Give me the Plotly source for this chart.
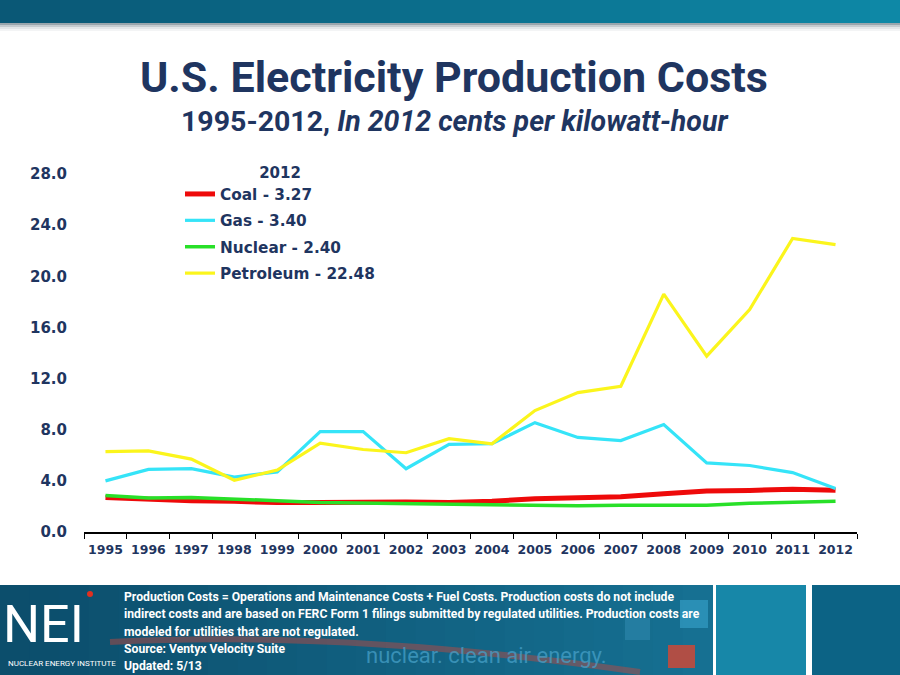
import plotly.graph_objects as go

years = [str(y) for y in range(1995, 2013)]
coal = [2.70, 2.55, 2.45, 2.40, 2.30, 2.30, 2.35, 2.35, 2.30, 2.40, 2.60, 2.70, 2.75, 3.00, 3.20, 3.25, 3.35, 3.27]
gas = [4.00, 4.90, 4.95, 4.30, 4.70, 7.85, 7.85, 4.95, 6.85, 6.90, 8.55, 7.40, 7.15, 8.40, 5.40, 5.20, 4.65, 3.40]
nuclear = [2.85, 2.65, 2.70, 2.60, 2.45, 2.30, 2.25, 2.20, 2.15, 2.10, 2.05, 2.05, 2.10, 2.10, 2.10, 2.25, 2.30, 2.40]
petroleum = [6.28, 6.35, 5.70, 4.05, 4.85, 6.95, 6.45, 6.20, 7.30, 6.90, 9.50, 10.90, 11.40, 18.60, 13.75, 17.40, 22.96, 22.48]
y_ticks = [0, 4, 8, 12, 16, 20, 24, 28]

series = [
    ("Coal - 3.27", coal, "#ee0a0a", 5),
    ("Gas - 3.40", gas, "#35e4f8", 3.2),
    ("Nuclear - 2.40", nuclear, "#28e028", 3.5),
    ("Petroleum - 22.48", petroleum, "#fbf51c", 3.2),
]

NAVY = "#1f3560"
NARROW = "Roboto, Liberation Sans Narrow, sans-serif"
VERD = "DejaVu Sans, Verdana, sans-serif"

L, R, T, B = 84, 857, 174, 532
def PX(x):
    return (x - L) / (R - L)
def PY(y):
    return (B - y) / (B - T)

fig = go.Figure()
for i, (name, vals, col, w) in enumerate(series):
    fig.add_trace(go.Scatter(x=years, y=vals, mode="lines", name=name,
                             legendgroup=f"g{i}",
                             line=dict(color=col, width=w)))

shapes = []
# header gradient bar
n = 30
c0 = (10, 88, 118)
c1 = (14, 136, 166)
for i in range(n):
    t = i / (n - 1)
    c = tuple(int(c0[k] + (c1[k] - c0[k]) * t) for k in range(3))
    shapes.append(dict(type="rect", xref="paper", yref="paper",
                       x0=PX(900 * i / n), x1=PX(900 * (i + 1) / n + 1),
                       y0=PY(23), y1=PY(0), fillcolor="rgb(%d,%d,%d)" % c,
                       line=dict(width=0), layer="below"))
for j, col in enumerate(["#9aa6ad", "#c4cbcf", "#e3e6e8", "#f3f4f5"]):
    shapes.append(dict(type="rect", xref="paper", yref="paper",
                       x0=PX(0), x1=PX(900), y0=PY(23 + 2 * (j + 1)), y1=PY(23 + 2 * j),
                       fillcolor=col, line=dict(width=0), layer="below"))
# footer
n2 = 24
f0 = (12, 78, 108)
f1 = (22, 112, 146)
for i in range(n2):
    t = i / (n2 - 1)
    c = tuple(int(f0[k] + (f1[k] - f0[k]) * t) for k in range(3))
    shapes.append(dict(type="rect", xref="paper", yref="paper",
                       x0=PX(712 * i / n2), x1=PX(712 * (i + 1) / n2 + 1),
                       y0=PY(675), y1=PY(585), fillcolor="rgb(%d,%d,%d)" % c,
                       line=dict(width=0), layer="below"))
# decorative swoosh and squares
shapes.append(dict(type="path", xref="paper", yref="paper",
                   path="M %f,%f Q %f,%f %f,%f" % (PX(110), PY(642), PX(350), PY(630), PX(640), PY(672)),
                   line=dict(color="rgba(200,70,60,0.45)", width=6), layer="below"))
shapes.append(dict(type="rect", xref="paper", yref="paper",
                   x0=PX(668), x1=PX(695), y0=PY(668), y1=PY(645),
                   fillcolor="rgba(215,70,50,0.8)", line=dict(width=0), layer="below"))
shapes.append(dict(type="rect", xref="paper", yref="paper",
                   x0=PX(680), x1=PX(708), y0=PY(628), y1=PY(600),
                   fillcolor="rgba(60,170,210,0.55)", line=dict(width=0), layer="below"))
shapes.append(dict(type="rect", xref="paper", yref="paper",
                   x0=PX(625), x1=PX(650), y0=PY(640), y1=PY(618),
                   fillcolor="rgba(60,150,190,0.4)", line=dict(width=0), layer="below"))
shapes.append(dict(type="rect", xref="paper", yref="paper",
                   x0=PX(716), x1=PX(806), y0=PY(675), y1=PY(585),
                   fillcolor="#1787a8", line=dict(width=0), layer="below"))
shapes.append(dict(type="rect", xref="paper", yref="paper",
                   x0=PX(812), x1=PX(900), y0=PY(675), y1=PY(585),
                   fillcolor="#0c6385", line=dict(width=0), layer="below"))
# NEI red dot
shapes.append(dict(type="circle", xref="paper", yref="paper",
                   x0=PX(87), x1=PX(93), y0=PY(597), y1=PY(591),
                   fillcolor="#e03020", line=dict(width=0)))

annotations = [
    dict(text="<b>U.S. Electricity Production Costs</b>", x=PX(454), y=PY(77),
         font=dict(family=NARROW, size=43, color=NAVY)),
    dict(text="<b>1995-2012, <i>In 2012 cents per kilowatt-hour</i></b>", x=PX(454), y=PY(121),
         font=dict(family=NARROW, size=28.5, color=NAVY)),
]
foot_lines = [
    "Production Costs = Operations and Maintenance Costs + Fuel Costs. Production costs do not include",
    "indirect costs and are based on FERC Form 1 filings submitted by regulated utilities. Production costs are",
    "modeled for utilities that are not regulated.",
    "Source: Ventyx Velocity Suite",
    "Updated: 5/13",
]
for k, line in enumerate(foot_lines):
    annotations.append(dict(text="<b>" + line + "</b>", x=PX(122), y=PY(597 + 17.3 * k),
                            xanchor="left", font=dict(family=NARROW, size=12.2, color="white")))
annotations += [
    dict(text="NEI", x=PX(43), y=PY(624), font=dict(family=NARROW, size=52, color="white")),
    dict(text="NUCLEAR ENERGY INSTITUTE", x=PX(62), y=PY(663),
         font=dict(family=NARROW, size=8, color="white")),
    dict(text="nuclear. clean air energy.", x=PX(486), y=PY(655),
         font=dict(family=NARROW, size=22, color="rgba(70,160,200,0.75)")),
]
for a in annotations:
    a.setdefault("xref", "paper")
    a.setdefault("yref", "paper")
    a.setdefault("showarrow", False)
    a.setdefault("xanchor", "center")
    a.setdefault("yanchor", "middle")

fig.update_layout(
    width=900, height=675,
    margin=dict(l=L, r=900 - R, t=T, b=675 - B, pad=0),
    paper_bgcolor="white", plot_bgcolor="white",
    shapes=shapes, annotations=annotations,
    showlegend=True,
    legend=dict(x=PX(180), y=PY(158), xanchor="left", yanchor="top",
                bgcolor="rgba(0,0,0,0)", tracegroupgap=3.5,
                font=dict(family=VERD, size=15.3, color=NAVY, weight="bold"),
                title=dict(text="<b>2012</b>", side="top center",
                           font=dict(family=VERD, size=15, color=NAVY))),
    xaxis=dict(type="category", range=[-0.5, 17.5], tickson="boundaries",
               ticks="outside", ticklen=5, ticklabelstandoff=5, tickangle=0,
               tickcolor="black", showline=True, linecolor="black", linewidth=1.5,
               showgrid=False, zeroline=False,
               tickfont=dict(family=VERD, size=12.5, color=NAVY, weight="bold")),
    yaxis=dict(range=[0, 28], tickvals=y_ticks, tickformat=".1f", ticks="outside",
               ticklen=13, tickcolor="rgba(0,0,0,0)", showline=False, showgrid=False,
               zeroline=False,
               tickfont=dict(family=VERD, size=15, color=NAVY, weight="bold")),
)

fig.write_html("out.html")
